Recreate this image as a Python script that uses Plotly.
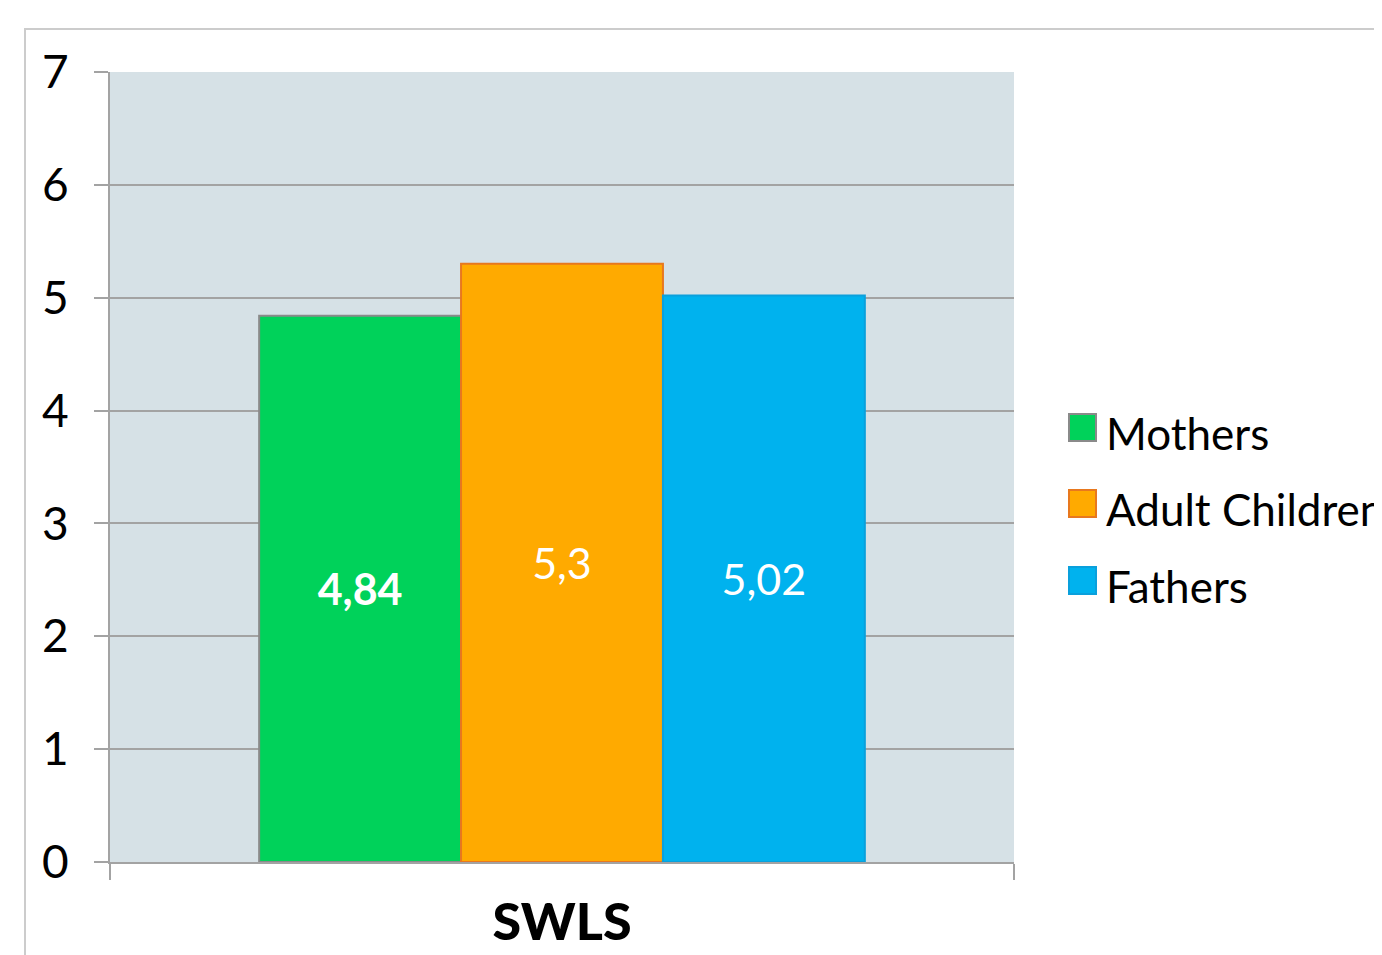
import plotly.graph_objects as go

categories = ["SWLS"]
series_names = ["Mothers", "Adult Children", "Fathers"]
mothers = [4.84]
adult_children = [5.3]
fathers = [5.02]
y_ticks = [0, 1, 2, 3, 4, 5, 6, 7]

fills = ["#00D25A", "#FFAA00", "#00B2EE"]
outlines = ["#8A8A8A", "#E8781E", "#0AA0DC"]
weights = ["bold", "normal", "normal"]
FONT = "Lato"

# page body has an 8px margin
OFF = 8
FW, FH = 1400, 955 - OFF

fig = go.Figure()
for name, vals, fc, lc, w in zip(series_names, [mothers, adult_children, fathers], fills, outlines, weights):
    fig.add_trace(go.Bar(
        x=categories, y=vals, name=name,
        marker=dict(color=fc, line=dict(color=lc, width=2)),
        text=[f"{v:g}".replace(".", ",") for v in vals],
        textposition="inside", insidetextanchor="middle",
        textfont=dict(family=FONT, size=43, color="white", weight=w),
        showlegend=False, hoverinfo="skip",
    ))

# target pixel geometry (window coords)
L, T, R, B = 110, 72, 1014, 862
W, H = R - L, B - T
def px_x(p): return (p - L) / W
def px_y(p): return (B - p) / H

sq_tops = [414, 490, 567]
for name, fc, lc, top in zip(series_names, fills, outlines, sq_tops):
    fig.add_shape(type="rect", xref="paper", yref="paper",
                  x0=px_x(1069), x1=px_x(1096), y0=px_y(top + 27), y1=px_y(top),
                  fillcolor=fc, line=dict(color=lc, width=2))
    fig.add_annotation(xref="paper", yref="paper", x=px_x(1104), y=px_y(top + 19),
                       text=name, showarrow=False, xanchor="left", yanchor="middle",
                       font=dict(family=FONT, size=44, color="black"))

# outer frame
fig.add_shape(type="rect", xref="paper", yref="paper",
              x0=px_x(25), x1=px_x(1440), y0=px_y(1000), y1=px_y(29),
              line=dict(color="#CCCCCC", width=2), fillcolor="rgba(0,0,0,0)")

fig.update_layout(
    width=FW, height=FH,
    margin=dict(l=L - OFF, r=FW - (R - OFF), t=T - OFF, b=FH - (B - OFF), pad=0,
                autoexpand=False),
    paper_bgcolor="white", plot_bgcolor="#D6E1E6",
    barmode="group", bargap=0.33, bargroupgap=0,
    font=dict(family=FONT, color="black"),
)
fig.update_yaxes(
    range=[0, 7], tickvals=y_ticks, ticktext=[str(t) for t in y_ticks],
    showgrid=True, gridcolor="#A3A3A3", gridwidth=2,
    ticks="outside", ticklen=14, tickwidth=2, tickcolor="#A3A3A3",
    showline=True, linecolor="#A3A3A3", linewidth=2,
    tickfont=dict(family=FONT, size=46, color="black"),
    ticklabelstandoff=16, zeroline=False, automargin=False,
)
fig.update_xaxes(
    showline=True, linecolor="#A3A3A3", linewidth=2,
    ticks="outside", tickson="boundaries", ticklen=16, tickwidth=2, tickcolor="#A3A3A3",
    tickfont=dict(family=FONT, size=52, color="black", weight=900),
    ticklabelstandoff=14, showgrid=False, automargin=False,
)

fig.write_html("out.html")
